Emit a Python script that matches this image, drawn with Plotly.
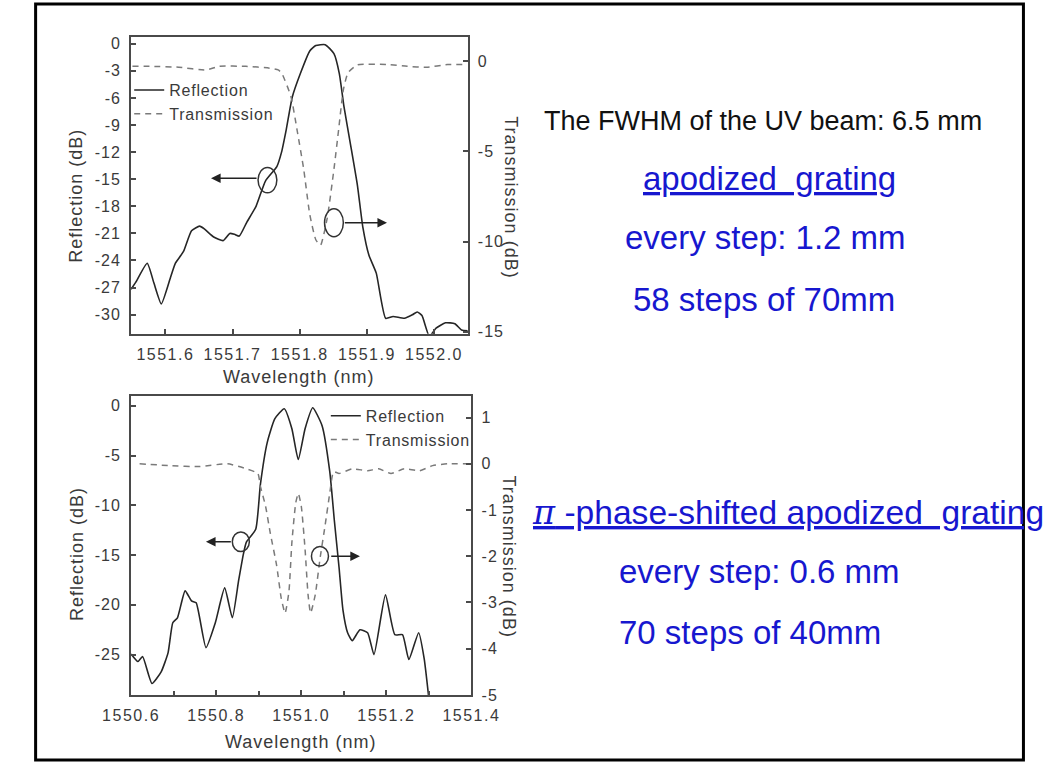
import plotly.graph_objects as go

# ---------------- data ----------------
# Top panel: apodized grating
top_wl_refl = [1551.549, 1551.556, 1551.573, 1551.583, 1551.594, 1551.608, 1551.615, 1551.627,
               1551.639, 1551.651, 1551.658, 1551.672, 1551.686, 1551.696, 1551.703, 1551.710,
               1551.721, 1551.735, 1551.749, 1551.766, 1551.773, 1551.780, 1551.789, 1551.801,
               1551.815, 1551.824, 1551.838, 1551.851, 1551.859, 1551.866, 1551.876, 1551.886,
               1551.894, 1551.903, 1551.914, 1551.928, 1551.939, 1551.956, 1551.968, 1551.975,
               1551.982, 1551.993, 1552.003, 1552.017, 1552.031, 1552.041, 1552.051]
top_refl = [-27.2, -26.4, -24.3, -26.5, -28.8, -25.8, -24.3, -23.0,
            -20.7, -20.2, -20.5, -21.4, -21.8, -21.0, -21.1, -21.3,
            -19.8, -18.0, -15.2, -13.6, -12.0, -9.5, -5.9, -3.3,
            -0.8, -0.2, -0.1, -1.1, -3.3, -7.0, -11.3, -15.7,
            -20.3, -23.4, -25.4, -30.4, -30.2, -30.4, -30.0, -29.7,
            -30.1, -32.4, -31.5, -30.9, -31.0, -31.7, -31.8]
top_wl_trans = [1551.551, 1551.580, 1551.620, 1551.661, 1551.680, 1551.720, 1551.755, 1551.768,
                1551.773, 1551.787, 1551.796, 1551.806, 1551.815, 1551.824, 1551.831, 1551.841,
                1551.851, 1551.858, 1551.865, 1551.872, 1551.886, 1551.930, 1551.960, 1551.989,
                1552.020, 1552.049]
top_trans = [-0.3, -0.3, -0.35, -0.5, -0.3, -0.3, -0.4, -0.5,
             -0.66, -1.97, -3.8, -6.0, -8.5, -9.9, -10.2, -8.7,
             -6.0, -3.8, -1.6, -0.66, -0.22, -0.2, -0.3, -0.35,
             -0.2, -0.2]

# Bottom panel: pi-phase-shifted apodized grating
bot_wl_refl = [1550.600, 1550.616, 1550.627, 1550.649, 1550.671, 1550.687, 1550.698, 1550.709,
               1550.727, 1550.742, 1550.753, 1550.776, 1550.798, 1550.820, 1550.838, 1550.853,
               1550.864, 1550.871, 1550.893, 1550.904, 1550.920, 1550.938, 1550.960, 1550.978,
               1550.993, 1551.009, 1551.027, 1551.049, 1551.067, 1551.078, 1551.089, 1551.098,
               1551.109, 1551.120, 1551.138, 1551.156, 1551.171, 1551.198, 1551.220, 1551.238,
               1551.253, 1551.276, 1551.289, 1551.300]
bot_refl = [-24.95, -25.7, -25.2, -27.9, -26.7, -24.8, -21.8, -21.3,
            -18.6, -19.6, -19.8, -24.3, -21.8, -18.3, -21.3, -17.5,
            -14.9, -13.7, -12.4, -7.9, -3.7, -1.3, -0.3, -2.3,
            -5.4, -2.3, -0.2, -2.0, -6.6, -11.6, -16.3, -20.5,
            -22.8, -23.6, -22.5, -22.8, -25.0, -19.0, -23.0, -23.0,
            -25.5, -22.8, -25.4, -29.4]
bot_wl_trans = [1550.620, 1550.693, 1550.760, 1550.827, 1550.871, 1550.898, 1550.904, 1550.916,
                1550.927, 1550.942, 1550.953, 1550.962, 1550.971, 1550.978, 1550.987, 1550.993,
                1551.000, 1551.009, 1551.016, 1551.022, 1551.033, 1551.044, 1551.056, 1551.067,
                1551.076, 1551.089, 1551.120, 1551.156, 1551.182, 1551.211, 1551.242, 1551.278,
                1551.309, 1551.344, 1551.400]
bot_trans = [0.0, -0.04, -0.06, 0.0, -0.11, -0.21, -0.49, -0.91,
             -1.49, -2.19, -2.91, -3.23, -2.77, -1.70, -0.85, -0.64,
             -0.91, -1.85, -2.83, -3.23, -2.83, -2.06, -1.34, -0.64,
             -0.17, -0.21, -0.11, -0.15, -0.11, -0.21, -0.11, -0.15,
             -0.04, 0.0, 0.0]

# tick labels
top_x_ticks = [1551.6, 1551.7, 1551.8, 1551.9, 1552.0]
top_x_labels = ["1551.6", "1551.7", "1551.8", "1551.9", "1552.0"]
top_refl_ticks = [0, -3, -6, -9, -12, -15, -18, -21, -24, -27, -30]
top_refl_labels = ["0", "-3", "-6", "-9", "-12", "-15", "-18", "-21", "-24", "-27", "-30"]
top_trans_ticks = [0, -5, -10, -15]
top_trans_labels = ["0", "-5", "-10", "-15"]
bot_x_ticks = [1550.6, 1550.8, 1551.0, 1551.2, 1551.4]
bot_x_labels = ["1550.6", "1550.8", "1551.0", "1551.2", "1551.4"]
bot_x_minor = [1550.7, 1550.9, 1551.1, 1551.3]
bot_refl_ticks = [0, -5, -10, -15, -20, -25]
bot_refl_labels = ["0", "-5", "-10", "-15", "-20", "-25"]
bot_trans_ticks = [1, 0, -1, -2, -3, -4, -5]
bot_trans_labels = ["1", "0", "-1", "-2", "-3", "-4", "-5"]

# ---------------- figure ----------------
W, H = 1060, 773
def fx(p):
    return p / W
def fy(p):
    return 1 - p / H

def spaced(s, ls=1.5):
    return '<span style="letter-spacing:%spx">%s</span>' % (ls, s)

AXC = "#4a4a4a"
TXC = "#3a3a3a"
FONT = "Liberation Sans, Arial, sans-serif"
BLUE = "#1717cf"

fig = go.Figure()
fig.add_trace(go.Scatter(x=top_wl_refl, y=top_refl, mode="lines", name=spaced("Reflection", 0.8),
                         line=dict(color="#262626", width=1.6, shape="spline", smoothing=0.5),
                         xaxis="x", yaxis="y", legend="legend"))
fig.add_trace(go.Scatter(x=top_wl_trans, y=top_trans, mode="lines", name=spaced("Transmission", 0.8),
                         line=dict(color="#7a7a7a", width=1.5, dash="6px,5px", shape="spline", smoothing=0.5),
                         xaxis="x", yaxis="y2", legend="legend"))
fig.add_trace(go.Scatter(x=bot_wl_refl, y=bot_refl, mode="lines", name=spaced("Reflection", 0.8),
                         line=dict(color="#262626", width=1.6, shape="spline", smoothing=0.5),
                         xaxis="x2", yaxis="y3", legend="legend2"))
fig.add_trace(go.Scatter(x=bot_wl_trans, y=bot_trans, mode="lines", name=spaced("Transmission", 0.8),
                         line=dict(color="#7a7a7a", width=1.5, dash="6px,5px", shape="spline", smoothing=0.5),
                         xaxis="x2", yaxis="y4", legend="legend2"))

tickfont = dict(family=FONT, size=16, color=TXC)
common = dict(showgrid=False, zeroline=False, showline=True, linecolor=AXC, linewidth=2,
              ticks="inside", ticklen=5, tickwidth=1.5, tickcolor=AXC, tickfont=tickfont,
              ticklabelstandoff=5, fixedrange=True)

def sp_list(labels, ls):
    return [spaced(t, ls) for t in labels]

fig.update_layout(
    width=W, height=H, margin=dict(l=0, r=0, t=0, b=0),
    paper_bgcolor="white", plot_bgcolor="white",
    xaxis=dict(domain=[fx(108), fx(464)], anchor="y", range=[1551.549, 1552.050],
               tickvals=top_x_ticks, ticktext=sp_list(top_x_labels, 1.5), mirror=True, **common),
    yaxis=dict(domain=[fy(337), fy(36)], anchor="x", range=[-32.1, 0.8],
               tickvals=top_refl_ticks, ticktext=sp_list(top_refl_labels, 1), mirror=True, **common),
    yaxis2=dict(overlaying="y", anchor="x", side="right", range=[-15.1, 1.35],
                tickvals=top_trans_ticks, ticktext=sp_list(top_trans_labels, 1), **common),
    xaxis2=dict(domain=[fx(108), fx(468)], anchor="y3", range=[1550.6, 1551.4],
                tickvals=bot_x_ticks, ticktext=sp_list(bot_x_labels, 1.5), mirror=True,
                minor=dict(tickvals=bot_x_minor, ticks="inside", ticklen=4, tickcolor=AXC, tickwidth=1.5),
                **common),
    yaxis3=dict(domain=[fy(703), fy(400)], anchor="x2", range=[-29.05, 1.0],
                tickvals=bot_refl_ticks, ticktext=sp_list(bot_refl_labels, 1), mirror=True, **common),
    yaxis4=dict(overlaying="y3", anchor="x2", side="right", range=[-5.0, 1.47],
                tickvals=bot_trans_ticks, ticktext=sp_list(bot_trans_labels, 1), **common),
    legend=dict(x=fx(106), y=fy(73), xanchor="left", yanchor="top", bgcolor="rgba(0,0,0,0)",
                font=dict(family=FONT, size=16, color=TXC), tracegroupgap=0, itemclick=False),
    legend2=dict(x=fx(314), y=fy(403), xanchor="left", yanchor="top", bgcolor="rgba(0,0,0,0)",
                 font=dict(family=FONT, size=16, color=TXC), tracegroupgap=0, itemclick=False),
    showlegend=True,
)

# axis titles
titlefont = dict(family=FONT, size=18, color=TXC)
def title(text, x, y, angle):
    fig.add_annotation(text=spaced(text, 1), x=fx(x), y=fy(y), xref="paper", yref="paper",
                       showarrow=False, textangle=angle, font=titlefont,
                       xanchor="center", yanchor="middle")
title("Reflection (dB)", 50, 197, -90)
title("Transmission (dB)", 509, 199, 90)
title("Wavelength (nm)", 285, 381, 0)
title("Reflection (dB)", 50, 560, -90)
title("Transmission (dB)", 508, 563, 90)
title("Wavelength (nm)", 287, 751, 0)

# circles + arrows marking which axis each curve belongs to
def marker(xref, yref, cx, cy, rx, ry, tail_x, head_x, ay):
    fig.add_shape(type="circle", xref=xref, yref=yref, x0=cx - rx, x1=cx + rx, y0=cy - ry, y1=cy + ry,
                  line=dict(color="#333333", width=1.5))
    fig.add_annotation(x=head_x, y=ay, ax=tail_x, ay=ay, xref=xref, yref=yref, axref=xref, ayref=yref,
                       text="", showarrow=True, arrowhead=2, arrowsize=1.2, arrowwidth=1.6,
                       arrowcolor="#222222")
marker("x", "y", 1551.752, -15.1, 0.014, 1.41, 1551.738, 1551.668, -14.9)
marker("x", "y2", 1551.851, -8.96, 0.014, 0.77, 1551.865, 1551.930, -8.96)
marker("x2", "y3", 1550.858, -13.66, 0.02, 0.99, 1550.838, 1550.776, -13.66)
marker("x2", "y4", 1551.044, -2.0, 0.02, 0.213, 1551.067, 1551.138, -2.0)

# right-hand text
def label(text, x, y, size, color, anchor="left"):
    fig.add_annotation(text=text, x=fx(x), y=fy(y), xref="paper", yref="paper", showarrow=False,
                       xanchor=anchor, yanchor="middle", font=dict(family=FONT, size=size, color=color))
label("The FWHM of the UV beam: 6.5 mm", 543, 122, 27, "#111111")
label("<u>apodized  grating</u>", 647, 180, 33, BLUE)
label("every step: 1.2 mm", 628, 240, 33, BLUE)
label("58 steps of 70mm", 637, 302, 33, BLUE)
label("<u><span style=\"font-family:'DejaVu Serif'\"><i>π</i></span> -phase-shifted apodized  grating</u>",
      530, 518, 33.6, BLUE)
label("every step: 0.6 mm", 622, 578, 33, BLUE)
label("70 steps of 40mm", 622, 640, 33, BLUE)

# outer frame of the slide
fig.add_shape(type="rect", xref="paper", yref="paper", x0=fx(7), x1=fx(1052), y0=fy(769), y1=fy(3),
              line=dict(color="black", width=3))

fig.write_html("out.html")
